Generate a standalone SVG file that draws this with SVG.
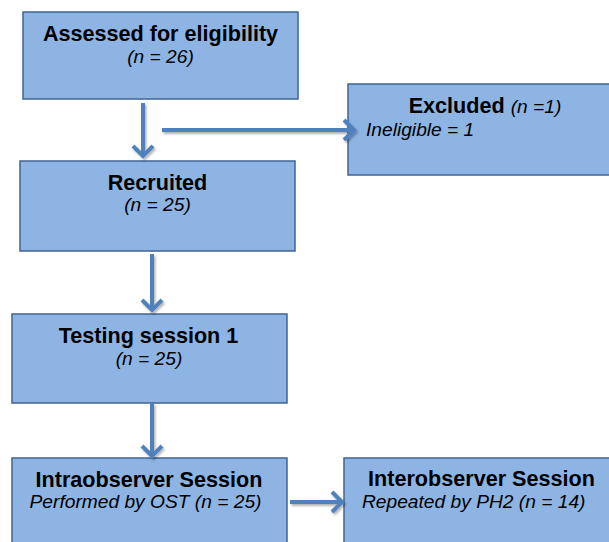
<svg xmlns="http://www.w3.org/2000/svg" width="609" height="542" viewBox="0 0 609 542">
<style>
.box{fill:#8EB4E3;stroke:#3F6494;stroke-width:1.5}
.t{font-family:"Liberation Sans",Arial,sans-serif;font-weight:bold;font-size:21.6px;fill:#000;text-anchor:middle}
.s{font-family:"Liberation Sans",Arial,sans-serif;font-style:italic;font-size:19.2px;fill:#000;text-anchor:middle}
.sl{font-family:"Liberation Sans",Arial,sans-serif;font-style:italic;font-size:19.2px;fill:#000}
.n{font-style:italic;font-weight:normal;font-size:19.2px}
.a{fill:none;stroke:#4F81BD;stroke-width:4;stroke-linejoin:miter}
</style>
<defs>
<filter id="sh" x="-20%" y="-20%" width="140%" height="140%">
<feDropShadow dx="1.5" dy="2" stdDeviation="1" flood-color="#000" flood-opacity="0.3"/>
</filter>
</defs>
<rect width="609" height="542" fill="#fff"/>
<g id="assessed">
<rect class="box" x="23" y="12" width="275" height="87"/>
<text class="t" x="160.5" y="41">Assessed for eligibility</text>
<text class="s" x="160.5" y="63">(n = 26)</text>
</g>
<g id="excluded">
<rect class="box" x="348" y="84" width="275" height="91"/>
<text class="t" x="485" y="113">Excluded <tspan class="n">(n =1)</tspan></text>
<text class="sl" x="366" y="136">Ineligible = 1</text>
</g>
<g id="recruited">
<rect class="box" x="20" y="161" width="275" height="90"/>
<text class="t" x="157.5" y="190">Recruited</text>
<text class="s" x="157.5" y="211">(n = 25)</text>
</g>
<g id="testing">
<rect class="box" x="12" y="314" width="275" height="89"/>
<text class="t" x="148.5" y="343">Testing session 1</text>
<text class="s" x="149" y="365">(n = 25)</text>
</g>
<g id="intra">
<rect class="box" x="12" y="458" width="275" height="100"/>
<text class="t" x="149" y="487">Intraobserver Session</text>
<text class="s" x="145.5" y="508">Performed by OST (n = 25)</text>
</g>
<g id="inter">
<rect class="box" x="344" y="458" width="275" height="100"/>
<text class="t" x="481.5" y="486">Interobserver Session</text>
<text class="sl" x="362" y="508">Repeated by PH2 (n = 14)</text>
</g>
<g id="connectors" filter="url(#sh)">
<path class="a" d="M143 103V156M133 146L143 156L153 146"/>
<path class="a" d="M162 130H354M344 120L354 130L344 140"/>
<path class="a" d="M152 254V310M142 300L152 310L162 300"/>
<path class="a" d="M152 403V456M142 446L152 456L162 446"/>
<path class="a" d="M290 502H342M332 492L342 502L332 512"/>
</g>
</svg>
